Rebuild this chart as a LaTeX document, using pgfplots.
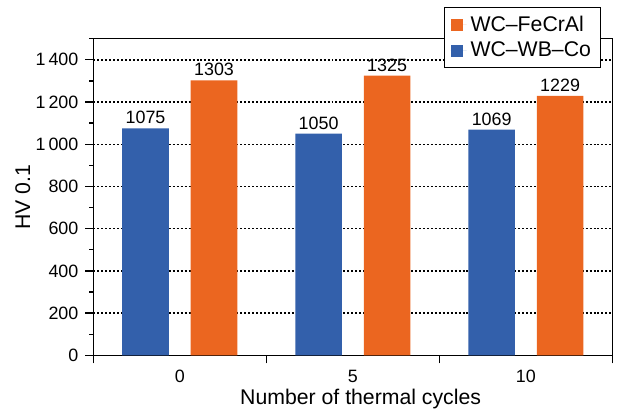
\documentclass[border=0pt]{standalone}
\usepackage{pgfplots}
\pgfplotsset{compat=1.18}
\usepackage{fontspec}
\setmainfont{Liberation Sans}
\definecolor{cblue}{RGB}{51,96,171}
\definecolor{corange}{RGB}{235,102,32}
\begin{document}
\begin{tikzpicture}
\begin{axis}[
  name=ax,
  scale only axis,
  width=261.5pt, height=159.5pt,
  xmin=-0.5, xmax=2.5, ymin=0, ymax=1500,
  ybar,
  bar width=23.5pt,
  xtick={-0.5,0.5,1.5,2.5},
  xticklabels={,,,},
  extra x ticks={0,1,2},
  extra x tick labels={0,5,10},
  extra x tick style={major tick style={draw=none}},
  ytick distance=200,
  minor y tick num=1,
  tick align=outside,
  xtick pos=bottom, ytick pos=left,
  major tick length=4pt, minor tick length=2pt,
  ymajorgrids,
  major grid style={black, line width=0.7pt, dash pattern=on 1pt off 1pt},
  axis line style={black, line width=0.65pt},
  tick style={black, line width=0.65pt},
  scaled y ticks=false,
  /pgf/number format/assume math mode=true,
  /pgf/number format/1000 sep={\,},
  ticklabel style={font=\fontsize{9}{10}\selectfont},
  xlabel={Number of thermal cycles},
  ylabel={HV 0.1},
  label style={font=\fontsize{10.7}{12}\selectfont},
  xlabel style={at={(axis description cs:0.515,-0.138)}, anchor=center},
  ylabel style={at={(axis description cs:-0.1358,0.5)}, anchor=center},
  nodes near coords={\pgfmathprintnumber[1000 sep={}]{\pgfplotspointmeta}},
  nodes near coords style={font=\fontsize{9}{10}\selectfont, inner sep=2pt, text=black},
  reverse legend,
  legend cell align=left,
  legend image code/.code={\path[#1] (0pt,-3pt) rectangle (6pt,3pt); \path (0pt,0pt) -- (8pt,0pt);},
  legend style={at={(axis description cs:0.979,1.100)}, anchor=north east,
    draw=black, line width=0.65pt, fill=white,
    font=\fontsize{10.7}{12}\selectfont},
]
\addplot[fill=cblue, draw=none, bar shift=-17.25pt] coordinates {(0,1075) (1,1050) (2,1069)};
\addlegendentry{WC--WB--Co}
\addplot[fill=corange, draw=none, bar shift=17.25pt] coordinates {(0,1303) (1,1325) (2,1229)};
\addlegendentry{WC--FeCrAl}
\end{axis}
\path ([shift={(-47pt,-28pt)}]ax.south west) rectangle ([shift={(262.5pt,179pt)}]ax.south west);
\end{tikzpicture}
\end{document}
